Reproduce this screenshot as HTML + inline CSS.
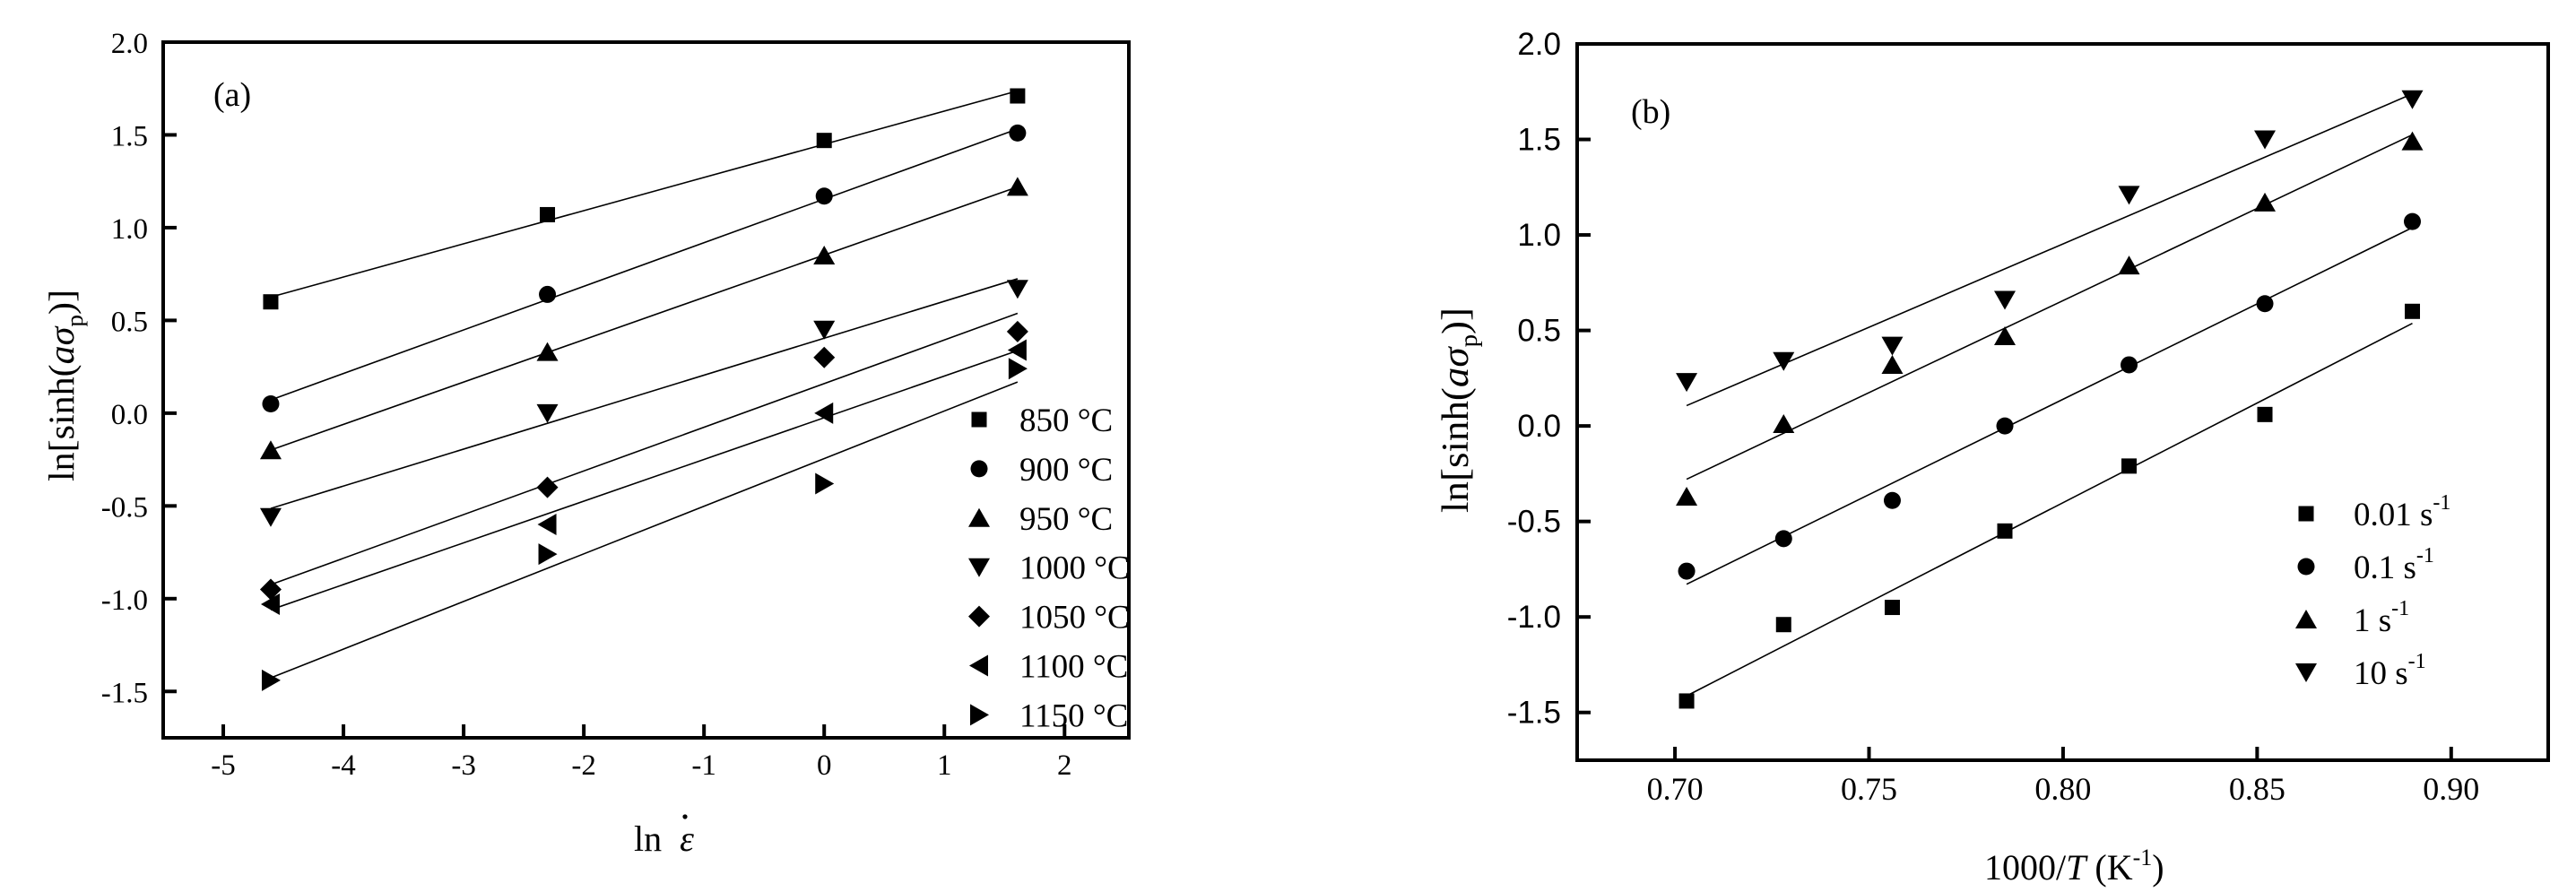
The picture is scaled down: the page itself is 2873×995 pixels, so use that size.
<!DOCTYPE html>
<html><head><meta charset="utf-8"><style>
html,body{margin:0;padding:0;background:#fff;}
svg{display:block;}
text{font-family:"Liberation Serif",serif;fill:#000;}
.sans{font-family:"Liberation Sans",sans-serif;}
</style></head><body>
<svg id="fig" width="2873" height="995" viewBox="0 0 2873 995" xmlns="http://www.w3.org/2000/svg">
<g id="pa"></g>
<g id="pb"></g>
</svg>
<script>
// Panel (a) data
const aX = [-4.605, -2.303, 0, 1.609];
const aLabels = ["850 °C","900 °C","950 °C","1000 °C","1050 °C","1100 °C","1150 °C"];
const a850 = [0.60, 1.07, 1.47, 1.71];
const a900 = [0.05, 0.64, 1.17, 1.51];
const a950 = [-0.20, 0.33, 0.85, 1.22];
const a1000 = [-0.56, 0.00, 0.45, 0.67];
const a1050 = [-0.95, -0.40, 0.30, 0.44];
const a1100 = [-1.03, -0.60, 0.00, 0.34];
const a1150 = [-1.44, -0.76, -0.38, 0.24];
const aXTicks = [-5,-4,-3,-2,-1,0,1,2];
const aYTicks = [-1.5,-1.0,-0.5,0.0,0.5,1.0,1.5,2.0];
// Panel (b) data
const bX = [0.703, 0.728, 0.756, 0.785, 0.817, 0.852, 0.890];
const bLabels = ["0.01","0.1","1","10"];
const b001 = [-1.44, -1.04, -0.95, -0.55, -0.21, 0.06, 0.60];
const b01 = [-0.76, -0.59, -0.39, 0.00, 0.32, 0.64, 1.07];
const b1 = [-0.37, 0.01, 0.32, 0.47, 0.84, 1.17, 1.49];
const b10 = [0.23, 0.34, 0.42, 0.66, 1.21, 1.50, 1.71];
const bXTicks = [0.70,0.75,0.80,0.85,0.90];
const bYTicks = [-1.5,-1.0,-0.5,0.0,0.5,1.0,1.5,2.0];

const NS="http://www.w3.org/2000/svg";
function mk(tag, parent, attrs){const e=document.createElementNS(NS,tag);for(const k in attrs)e.setAttribute(k,attrs[k]);parent.appendChild(e);return e;}

function marker(g, type, cx, cy){
  let e;
  if(type==='square') e=mk('rect',g,{x:cx-8.5,y:cy-8.5,width:17,height:17});
  else if(type==='circle') e=mk('circle',g,{cx:cx,cy:cy,r:9.5});
  else if(type==='up') e=mk('polygon',g,{points:`${cx},${cy-11} ${cx-12},${cy+10} ${cx+12},${cy+10}`});
  else if(type==='down') e=mk('polygon',g,{points:`${cx},${cy+11} ${cx-12},${cy-10} ${cx+12},${cy-10}`});
  else if(type==='diamond') e=mk('polygon',g,{points:`${cx},${cy-12} ${cx+12},${cy} ${cx},${cy+12} ${cx-12},${cy}`});
  else if(type==='left') e=mk('polygon',g,{points:`${cx-11},${cy} ${cx+10},${cy-12} ${cx+10},${cy+12}`});
  else e=mk('polygon',g,{points:`${cx+11},${cy} ${cx-10},${cy-12} ${cx-10},${cy+12}`});
  e.setAttribute('fill','#000');
  return e;
}
function fit(xs, ys){const n=xs.length;let sx=0,sy=0,sxx=0,sxy=0;for(let i=0;i<n;i++){sx+=xs[i];sy+=ys[i];sxx+=xs[i]*xs[i];sxy+=xs[i]*ys[i];}const m=(n*sxy-sx*sy)/(n*sxx-sx*sx);return {m:m,b:(sy-m*sx)/n};}

function panel(g, o){
  const sx=v=>o.L+(v-o.x0)/(o.x1-o.x0)*(o.R-o.L);
  const sy=v=>o.B-(v-o.y0)/(o.y1-o.y0)*(o.B-o.T);
  const box=mk('rect',g,{x:o.L,y:o.T,width:o.R-o.L,height:o.B-o.T,fill:'none',stroke:'#000','stroke-width':4});
  
  
  o.xt.forEach(v=>{
    const t=mk('line',g,{x1:sx(v),x2:sx(v),y1:o.B,y2:o.B-15,stroke:'#000','stroke-width':4});
    
    
    const l=mk('text',g,{x:sx(v),y:o.B+o.xlOff,'text-anchor':'middle','font-size':o.xfs});
    
    
    l.textContent=o.xfmt(v);
  });
  o.yt.forEach(v=>{
    const t=mk('line',g,{x1:o.L,x2:o.L+15,y1:sy(v),y2:sy(v),stroke:'#000','stroke-width':4});
    
    
    const l=mk('text',g,{x:o.ylx,y:sy(v)+12,'text-anchor':'end','font-size':o.yfs});
    if(o.ysans) l.setAttribute('class','sans');
    
    
    l.textContent=v.toFixed(1);
  });
  o.series.forEach((s,i)=>{
    const f=fit(o.xs,s.ys);
    const xa=o.xs[0], xb=o.xs[o.xs.length-1];
    const ln=mk('line',g,{x1:sx(xa),y1:sy(f.m*xa+f.b),x2:sx(xb),y2:sy(f.m*xb+f.b),stroke:'#000','stroke-width':1.6});
    
    
    s.ys.forEach((y,j)=>{
      const m=marker(g,s.m,sx(o.xs[j]),sy(y));
      
      
    });
    const lm=marker(g,s.m,o.legX,o.legY+i*o.legDy);
    
    
    const lt=mk('text',g,{x:o.legTX,y:o.legY+i*o.legDy+13,'font-size':37});
    
    
    if(o.sup){lt.textContent=s.label+' s';const sp=mk('tspan',lt,{dy:-18,'font-size':24});sp.textContent='-1';}
    else lt.textContent=s.label;
  });
}

const mA=['square','circle','up','down','diamond','left','right'];
const aSeries=[a850,a900,a950,a1000,a1050,a1100,a1150].map((ys,i)=>({ys:ys,m:mA[i],label:aLabels[i],key:aLabels[i].split(' ')[0]}));
panel(document.getElementById('pa'),{L:182,R:1259,T:47,B:823,x0:-5.5,x1:2.535,y0:-1.75,y1:2.0,
  xt:aXTicks,yt:aYTicks,xfmt:v=>String(v),xlOff:41,xfs:33,ylx:165,yfs:33,ysans:false,
  xs:aX,series:aSeries,legX:1092,legTX:1137,legY:468,legDy:54.9,sup:false});
const mB=['square','circle','up','down'];
const bSeries=[b001,b01,b1,b10].map((ys,i)=>({ys:ys,m:mB[i],label:bLabels[i],key:bLabels[i]}));
panel(document.getElementById('pb'),{L:1759,R:2842,T:49,B:848,x0:0.6748,x1:0.925,y0:-1.75,y1:2.0,
  xt:bXTicks,yt:bYTicks,xfmt:v=>v.toFixed(2),xlOff:44,xfs:36,ylx:1741,yfs:35,ysans:true,
  xs:bX,series:bSeries,legX:2572,legTX:2625,legY:573,legDy:59,sup:true});
</script>
<script>
(function(){
const svg=document.getElementById('fig');
function t(attrs, html, name){const e=document.createElementNS("http://www.w3.org/2000/svg",'text');for(const k in attrs)e.setAttribute(k,attrs[k]);e.innerHTML=html;svg.appendChild(e);return e;}
t({x:238,y:118,'font-size':38},'(a)','panel-a-label');
t({x:1819,y:137,'font-size':38},'(b)','panel-b-label');
t({x:707,y:949,'font-size':40},'ln&#160;&#160;<tspan font-style="italic">ε</tspan>','x-axis-title-a');
const d=document.createElementNS("http://www.w3.org/2000/svg",'circle');
d.setAttribute('cx',764);d.setAttribute('cy',911);d.setAttribute('r',2.6);d.setAttribute('fill','#000');
svg.appendChild(d);


t({x:2213,y:981,'font-size':40},'1000/<tspan font-style="italic">T</tspan> (K<tspan dy="-16" font-size="26">-1</tspan><tspan dy="16">)</tspan>','x-axis-title-b');
t({x:0,y:0,'font-size':40,transform:'translate(82,537) rotate(-90)',textLength:214,lengthAdjust:'spacingAndGlyphs'},'ln[sinh(<tspan font-style="italic">a</tspan><tspan font-style="italic">σ</tspan><tspan dy="10" font-size="26">p</tspan><tspan dy="-10">)]</tspan>','y-axis-title-a');
t({x:0,y:0,'font-size':42,transform:'translate(1637,572) rotate(-90)',textLength:229,lengthAdjust:'spacingAndGlyphs'},'ln[sinh(<tspan font-style="italic">a</tspan><tspan font-style="italic">σ</tspan><tspan dy="10" font-size="27">p</tspan><tspan dy="-10">)]</tspan>','y-axis-title-b');
})();
</script>
</body></html>
